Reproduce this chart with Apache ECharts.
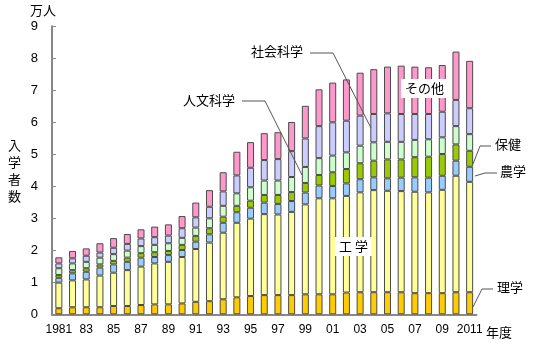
<!DOCTYPE html>
<html><head><meta charset="utf-8">
<script src="https://cdn.jsdelivr.net/npm/echarts@6/dist/echarts.min.js"></script>
<style>html,body{margin:0;padding:0;background:#fff}#c{width:535px;height:350px}</style>
</head><body><div id="c"></div>
<script>
const years = ['1981','82','83','84','85','86','87','88','89','90','91','92','93','94','95','96','97','98','99','00','01','02','03','04','05','06','07','08','09','10','2011'];
const rigaku  = [0.19,0.22,0.22,0.22,0.26,0.26,0.29,0.31,0.31,0.34,0.39,0.41,0.47,0.53,0.57,0.60,0.60,0.60,0.625,0.625,0.625,0.68,0.69,0.69,0.69,0.69,0.66,0.66,0.66,0.69,0.69];
const kogaku  = [0.80,0.84,0.87,0.99,1.04,1.12,1.20,1.28,1.33,1.45,1.65,1.83,2.08,2.33,2.42,2.53,2.52,2.60,2.81,3.00,3.00,3.02,3.12,3.19,3.17,3.16,3.17,3.15,3.23,3.64,3.45];
const nogaku  = [0.15,0.22,0.24,0.25,0.26,0.26,0.28,0.20,0.21,0.22,0.23,0.26,0.31,0.33,0.34,0.36,0.33,0.34,0.37,0.40,0.385,0.39,0.41,0.40,0.39,0.42,0.45,0.46,0.44,0.47,0.47];
const hoken   = [0.09,0.10,0.11,0.10,0.11,0.13,0.14,0.15,0.13,0.16,0.18,0.19,0.19,0.20,0.22,0.24,0.28,0.28,0.30,0.33,0.43,0.45,0.50,0.52,0.59,0.57,0.63,0.655,0.68,0.51,0.50];
const jinbun  = [0.21,0.21,0.20,0.21,0.21,0.22,0.22,0.23,0.24,0.22,0.26,0.31,0.34,0.39,0.42,0.45,0.45,0.47,0.50,0.525,0.52,0.52,0.55,0.575,0.55,0.55,0.54,0.545,0.52,0.57,0.52];
const shakai  = [0.15,0.16,0.19,0.16,0.20,0.21,0.24,0.24,0.24,0.30,0.32,0.36,0.45,0.56,0.61,0.64,0.67,0.81,0.89,1.00,1.04,0.99,0.94,0.885,0.89,0.87,0.81,0.79,0.80,0.82,0.81];
const sonota  = [0.19,0.23,0.23,0.29,0.30,0.31,0.285,0.33,0.35,0.38,0.46,0.52,0.60,0.74,0.80,0.84,0.84,0.91,1.02,1.15,1.24,1.29,1.34,1.40,1.46,1.51,1.48,1.46,1.46,1.51,1.48];
const seriesNames = ['理学','工学','農学','保健','人文科学','社会科学','その他'];
const yTicks = [0,1,2,3,4,5,6,7,8,9];

const colors = ['#FFCC00','#FFFF99','#99CCFF','#99CC00','#CCFFCC','#CCCCFF','#FF99CC'];
const dataSets = [rigaku,kogaku,nogaku,hoken,jinbun,shakai,sonota];
const FONT = '"Liberation Sans","Noto Sans CJK JP",sans-serif';
const JFONT = '"Noto Sans CJK JP",sans-serif';

const chart = echarts.init(document.getElementById('c'));
const lineStyle = {stroke:'#555', lineWidth:1, fill:null};
function lbl(text, x, y, bg){
  return {type:'text', left:x, top:y, z:100, style:{text:text, font:'13px '+JFONT, fill:'#000', backgroundColor: bg||null, padding: bg?[3,4]:0}};
}
function poly(pts){ return {type:'polyline', z:99, shape:{points:pts}, style:lineStyle}; }

chart.setOption({
  animation:false,
  grid:{left:52, right:58.5, top:26.3, bottom:35.7, containLabel:false},
  xAxis:{type:'category', data:years,
    axisLine:{show:true, lineStyle:{color:'#888', width:2}},
    axisTick:{show:false},
    axisLabel:{interval:1, color:'#000', fontSize:12, fontFamily:FONT, margin:9}
  },
  yAxis:{type:'value', min:0, max:9, interval:1,
    splitLine:{show:false},
    axisLine:{show:true, lineStyle:{color:'#888', width:2}},
    axisTick:{show:true, inside:true, length:4, lineStyle:{color:'#888'}},
    axisLabel:{color:'#000', fontSize:13, fontFamily:FONT, margin:14,
      formatter:v=> yTicks.indexOf(v)>=0 ? String(v) : ''}
  },
  series: dataSets.map((d,i)=>({
    name:seriesNames[i], type:'bar', stack:'all', data:d, barWidth:7,
    itemStyle:{color:colors[i], borderColor:'#4a4a4a', borderWidth:1}
  })),
  graphic:[
    lbl('万人', 30, 4),
    {type:'text', left:8, top:137, z:100, style:{text:'入\n学\n者\n数', font:'13px '+JFONT, fill:'#000', lineHeight:17}},
    lbl('年度', 486, 326),
    lbl('社会科学', 251, 45),
    poly([[310,53],[333,53],[371,128]]),
    lbl('人文科学', 183, 94),
    poly([[242,101],[265,101],[302,175]]),
    lbl('その他', 401, 79, '#fff'),
    lbl('工 学', 335, 237, '#fff'),
    lbl('保健', 495, 138),
    poly([[491,146],[480,146],[473,164]]),
    lbl('農学', 500, 165),
    poly([[497,173],[485,173],[475,176]]),
    lbl('理学', 497, 281),
    poly([[493,289],[482,289],[473,307]])
  ]
});
</script></body></html>
